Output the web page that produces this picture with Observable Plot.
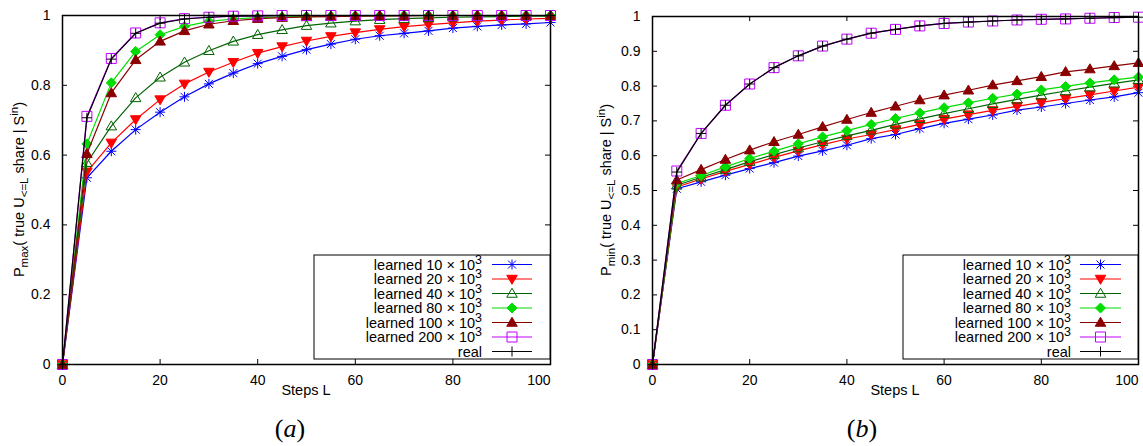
<!DOCTYPE html>
<html><head><meta charset="utf-8">
<script src="https://cdn.jsdelivr.net/npm/d3@7"></script>
<script src="https://cdn.jsdelivr.net/npm/@observablehq/plot@0.6"></script>
<style>
body{margin:0;background:#fff;width:1143px;height:446px;overflow:hidden;position:relative}
.panel{position:absolute;top:0}
</style></head><body>
<div id="pa" class="panel" style="left:0"></div>
<div id="pb" class="panel" style="left:580px"></div>
<script>
// ---------- data ----------
const steps = [0,5,10,15,20,25,30,35,40,45,50,55,60,65,70,75,80,85,90,95,100];
const seriesLabels = ["learned 10 × 10","learned 20 × 10","learned 40 × 10","learned 80 × 10","learned 100 × 10","learned 200 × 10","real"];
const seriesSup = ["3","3","3","3","3","3",""];
const xTicks = [0,20,40,60,80,100];
const yTicksA = [0,0.2,0.4,0.6,0.8,1];
const yTicksB = [0,0.1,0.2,0.3,0.4,0.5,0.6,0.7,0.8,0.9,1];

// panel (a): P_max
const a10   = [0,0.535,0.611,0.673,0.723,0.767,0.804,0.835,0.862,0.883,0.902,0.918,0.932,0.942,0.949,0.956,0.964,0.969,0.973,0.976,0.980];
const a20   = [0,0.552,0.635,0.702,0.759,0.804,0.838,0.866,0.892,0.911,0.927,0.940,0.951,0.960,0.968,0.974,0.979,0.984,0.987,0.990,0.992];
const a40   = [0,0.578,0.683,0.764,0.823,0.866,0.899,0.926,0.945,0.959,0.971,0.978,0.984,0.988,0.991,0.993,0.995,0.996,0.997,0.998,0.998];
const a80   = [0,0.632,0.807,0.897,0.945,0.969,0.983,0.990,0.994,0.996,0.997,0.998,0.999,0.999,1,1,1,1,1,1,1];
const a100  = [0,0.604,0.778,0.873,0.926,0.956,0.975,0.985,0.991,0.994,0.996,0.997,0.998,0.999,0.999,1,1,1,1,1,1];
const a200  = [0,0.711,0.877,0.950,0.979,0.991,0.995,0.998,0.999,1,1,1,1,1,1,1,1,1,1,1,1];
const aReal = [0,0.707,0.875,0.949,0.978,0.990,0.995,0.998,0.999,1,1,1,1,1,1,1,1,1,1,1,1];

// panel (b): P_min
const b10   = [0,0.505,0.525,0.544,0.563,0.580,0.599,0.614,0.630,0.649,0.661,0.678,0.693,0.705,0.717,0.731,0.740,0.750,0.760,0.769,0.781];
const b20   = [0,0.510,0.533,0.555,0.575,0.595,0.614,0.632,0.648,0.661,0.675,0.690,0.705,0.718,0.730,0.742,0.753,0.764,0.775,0.786,0.797];
const b40   = [0,0.515,0.538,0.560,0.583,0.603,0.622,0.640,0.657,0.673,0.690,0.706,0.721,0.735,0.749,0.762,0.774,0.786,0.797,0.808,0.818];
const b80   = [0,0.520,0.543,0.568,0.592,0.613,0.634,0.654,0.672,0.690,0.707,0.723,0.738,0.752,0.765,0.777,0.789,0.799,0.809,0.818,0.826];
const b100  = [0,0.530,0.560,0.589,0.616,0.640,0.661,0.683,0.704,0.724,0.742,0.760,0.774,0.788,0.803,0.815,0.827,0.841,0.849,0.858,0.867];
const b200  = [0,0.556,0.664,0.745,0.806,0.853,0.887,0.915,0.935,0.952,0.963,0.973,0.980,0.984,0.987,0.990,0.992,0.993,0.995,0.997,0.998];
const bReal = [0,0.553,0.664,0.745,0.806,0.853,0.887,0.915,0.935,0.952,0.963,0.973,0.980,0.984,0.987,0.990,0.992,0.993,0.995,0.997,0.998];

// ---------- styles ----------
const colors = ["#0000ff","#ff0000","#006400","#00dd00","#8b0000","#c000ff","#000000"];
const half = size => Math.sqrt(size/Math.PI);
const symStar = {draw(c,size){const s=half(size),d=s*0.8;c.moveTo(-s,0);c.lineTo(s,0);c.moveTo(0,-s);c.lineTo(0,s);c.moveTo(-d,-d);c.lineTo(d,d);c.moveTo(-d,d);c.lineTo(d,-d);}};
const symTriDown = {draw(c,size){const s=half(size);c.moveTo(0,s*1.05);c.lineTo(-s*1.05,-s*0.75);c.lineTo(s*1.05,-s*0.75);c.closePath();}};
const symTriUp = {draw(c,size){const s=half(size);c.moveTo(0,-s*1.05);c.lineTo(s*1.05,s*0.75);c.lineTo(-s*1.05,s*0.75);c.closePath();}};
const symDiamond = {draw(c,size){const s=half(size);c.moveTo(0,-s);c.lineTo(s,0);c.lineTo(0,s);c.lineTo(-s,0);c.closePath();}};
const symSquare = {draw(c,size){const s=half(size);c.moveTo(-s,-s);c.lineTo(s,-s);c.lineTo(s,s);c.lineTo(-s,s);c.closePath();}};
const symPlus = {draw(c,size){const s=half(size);c.moveTo(-s,0);c.lineTo(s,0);c.moveTo(0,-s);c.lineTo(0,s);}};
const symbols = [symStar,symTriDown,symTriUp,symDiamond,symTriUp,symSquare,symPlus];
const filled = [false,true,false,true,true,false,false];

const FONT = "Liberation Sans, Arial, Helvetica, sans-serif";

function makePanel(el, valuesList, yTicks, opts){
  const {width, marginLeft, marginRight, marginTop, marginBottom, yName, legend, ylabX, capX, capLetter} = opts;
  const height = 446;
  const frameH = height - marginTop - marginBottom;
  const frameW = width - marginLeft - marginRight;
  const fmt = d => String(+d.toFixed(1));
  const marks = [
    // inward ticks
    Plot.tickX(xTicks, {x: d=>d, insetTop: frameH-5, stroke:"black", strokeWidth:1}),
    Plot.tickX(xTicks, {x: d=>d, insetBottom: frameH-5, stroke:"black", strokeWidth:1}),
    Plot.tickY(yTicks, {y: d=>d, insetRight: frameW-5, stroke:"black", strokeWidth:1}),
    Plot.tickY(yTicks, {y: d=>d, insetLeft: frameW-5, stroke:"black", strokeWidth:1}),
    Plot.axisX(xTicks.slice(0,-1), {tickSize:0, tickPadding:11, label:null, tickFormat: fmt, fontSize:14}),
    Plot.axisX(xTicks.slice(-1), {tickSize:0, tickPadding:11, label:null, tickFormat: fmt, textAnchor:"end", fontSize:14}),
    Plot.axisY(yTicks, {tickSize:0, tickPadding:12, label:null, tickFormat: fmt, fontSize:14}),
  ];
  valuesList.forEach((vals, k) => {
    const rows = steps.map((x,i) => ({x, y: vals[i]}));
    marks.push(Plot.line(rows, {x:"x", y:"y", stroke: colors[k], strokeWidth: 1.2}));
    marks.push(Plot.dot(rows, {x:"x", y:"y", symbol: symbols[k], r: 5, stroke: colors[k], fill: filled[k] ? colors[k] : "none", strokeWidth: 1}));
  });
  marks.push(Plot.frame({stroke:"black", strokeWidth:1.5}));
  const chart = Plot.plot({
    width, height, marginLeft, marginRight, marginTop, marginBottom,
    style: {fontFamily: FONT, fontSize: "14px", background: "white", color: "black", overflow: "visible"},
    x: {domain: [0,100], label: null},
    y: {domain: [0,1], label: null},
    marks
  });
  el.appendChild(chart);
  const svg = d3.select(chart);
  // y label
  const yl = svg.append("text").attr("transform", `translate(${ylabX},${(marginTop + height - marginBottom)/2}) rotate(-90)`)
    .attr("text-anchor","middle").attr("font-family",FONT).attr("font-size",14.5).attr("fill","black");
  yl.append("tspan").text("P");
  yl.append("tspan").attr("dy",4).attr("font-size",11.5).text(yName);
  yl.append("tspan").attr("dy",-4).text("( true U");
  yl.append("tspan").attr("dy",4).attr("font-size",11.5).text("<=L");
  yl.append("tspan").attr("dy",-4).text(" share | S");
  yl.append("tspan").attr("dy",-6).attr("font-size",11.5).text("in");
  yl.append("tspan").attr("dy",6).text(")");
  // x label
  svg.append("text").attr("x", marginLeft + frameW/2).attr("y", 395).attr("text-anchor","middle")
    .attr("font-family",FONT).attr("font-size",14.5).attr("fill","black").text("Steps L");
  // caption
  const cap = svg.append("text").attr("x", capX).attr("y", 437).attr("text-anchor","middle")
    .attr("font-family","Liberation Serif, DejaVu Serif, serif").attr("font-size",26).attr("fill","black");
  cap.append("tspan").text("(");
  cap.append("tspan").attr("font-style","italic").text(capLetter);
  cap.append("tspan").text(")");
  // legend
  const L = legend;
  svg.append("rect").attr("x",L.x0).attr("y",L.y0).attr("width",L.x1-L.x0).attr("height",L.y1-L.y0)
    .attr("fill","white").attr("stroke","black").attr("stroke-width",1);
  seriesLabels.forEach((lab,k) => {
    const cy = L.rowY + k*L.rowH;
    const t = svg.append("text").attr("x",L.textX).attr("y",cy+5).attr("text-anchor","end")
      .attr("font-family",FONT).attr("font-size",14.5).attr("fill","black");
    t.append("tspan").text(lab);
    if (seriesSup[k]) t.append("tspan").attr("dy",-6).attr("font-size",12.5).text(seriesSup[k]);
    svg.append("line").attr("x1",L.lineX0).attr("x2",L.lineX1).attr("y1",cy).attr("y2",cy)
      .attr("stroke",colors[k]).attr("stroke-width",1.2);
    const p = d3.path(); symbols[k].draw(p, 25*Math.PI);
    svg.append("path").attr("d", p.toString()).attr("transform",`translate(${(L.lineX0+L.lineX1)/2},${cy})`)
      .attr("stroke",colors[k]).attr("fill", filled[k] ? colors[k] : "none").attr("stroke-width",1);
  });
}

makePanel(document.getElementById("pa"), [a10,a20,a40,a80,a100,a200,aReal], yTicksA, {
  width: 580, marginLeft: 62, marginRight: 30, marginTop: 15, marginBottom: 82,
  yName: "max", ylabX: 24, capX: 290, capLetter: "a",
  legend: {x0: 314, x1: 550, y0: 255, y1: 359, rowY: 264.5, rowH: 14.5, textX: 482, lineX0: 492, lineX1: 532}
});
makePanel(document.getElementById("pb"), [b10,b20,b40,b80,b100,b200,bReal], yTicksB, {
  width: 563, marginLeft: 72, marginRight: 5, marginTop: 16, marginBottom: 82,
  yName: "min", ylabX: 31, capX: 282, capLetter: "b",
  legend: {x0: 323, x1: 558, y0: 255, y1: 359, rowY: 264.5, rowH: 14.5, textX: 491, lineX0: 500, lineX1: 541}
});
</script>
</body></html>
